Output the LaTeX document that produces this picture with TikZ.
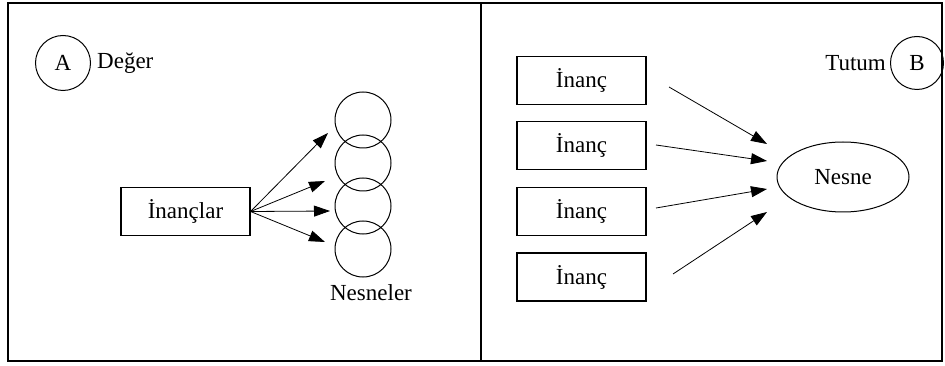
\documentclass[tikz,border=0pt]{standalone}
\usepackage{fontspec}
\setmainfont{Liberation Serif}
\usetikzlibrary{arrows.meta,shapes.geometric}
\begin{document}
\begin{tikzpicture}[x=1pt,y=-1pt,
  every node/.style={font=\fontsize{23}{27}\selectfont, inner sep=0pt},
  panel/.style={draw, line width=1.3pt},
  box/.style={draw, line width=1.1pt, minimum width=129pt, minimum height=48pt},
  ring/.style={draw, circle, line width=1pt, minimum size=55pt},
  bubble/.style={draw, circle, line width=1pt, minimum size=56pt},
  oval/.style={draw, ellipse, line width=1pt, minimum width=132pt, minimum height=70pt},
  arr/.style={-{Triangle[length=16pt,width=11pt]}, line width=0.8pt},
]
\useasboundingbox (0,0) rectangle (945,366);
% panels
\draw[panel] (8,3) rectangle (481,361);
\draw[panel] (481,3) rectangle (942,361);

% left panel
\node[ring] (A) at (63,63) {A};
\node[anchor=west] (deger) at (97,63) {Değer};
\node[box] (inanclar) at (185.5,211.5) {İnançlar};
\node[bubble] (n1) at (363,120) {};
\node[bubble] (n2) at (363,163) {};
\node[bubble] (n3) at (363,206) {};
\node[bubble] (n4) at (363,249) {};
\node (nesneler) at (371,293) {Nesneler};
\coordinate (t1) at (328,133);
\coordinate (t2) at (325,181);
\coordinate (t3) at (330,211);
\coordinate (t4) at (325,242);
\foreach \t in {t1,t2,t3,t4}
  \draw[arr] (inanclar.east) -- (\t);

% right panel
\node[anchor=east] (tutum) at (886,63) {Tutum};
\node[ring, minimum size=53pt] (B) at (917,63) {B};
\node[box] (i1) at (581.5,80.5) {İnanç};
\node[box] (i2) at (581.5,145.5) {İnanç};
\node[box] (i3) at (581.5,211.5) {İnanç};
\node[box] (i4) at (581.5,277) {İnanç};
\node[oval] (nesne) at (843,177) {Nesne};
\coordinate (s1) at (669,87);
\coordinate (s2) at (656,145);
\coordinate (s3) at (656,208);
\coordinate (s4) at (673,274);
\coordinate (e1) at (767,144);
\coordinate (e2) at (767,161);
\coordinate (e3) at (767,189);
\coordinate (e4) at (767,212);
\draw[arr] (s1) -- (e1);
\draw[arr] (s2) -- (e2);
\draw[arr] (s3) -- (e3);
\draw[arr] (s4) -- (e4);
\end{tikzpicture}
\end{document}
